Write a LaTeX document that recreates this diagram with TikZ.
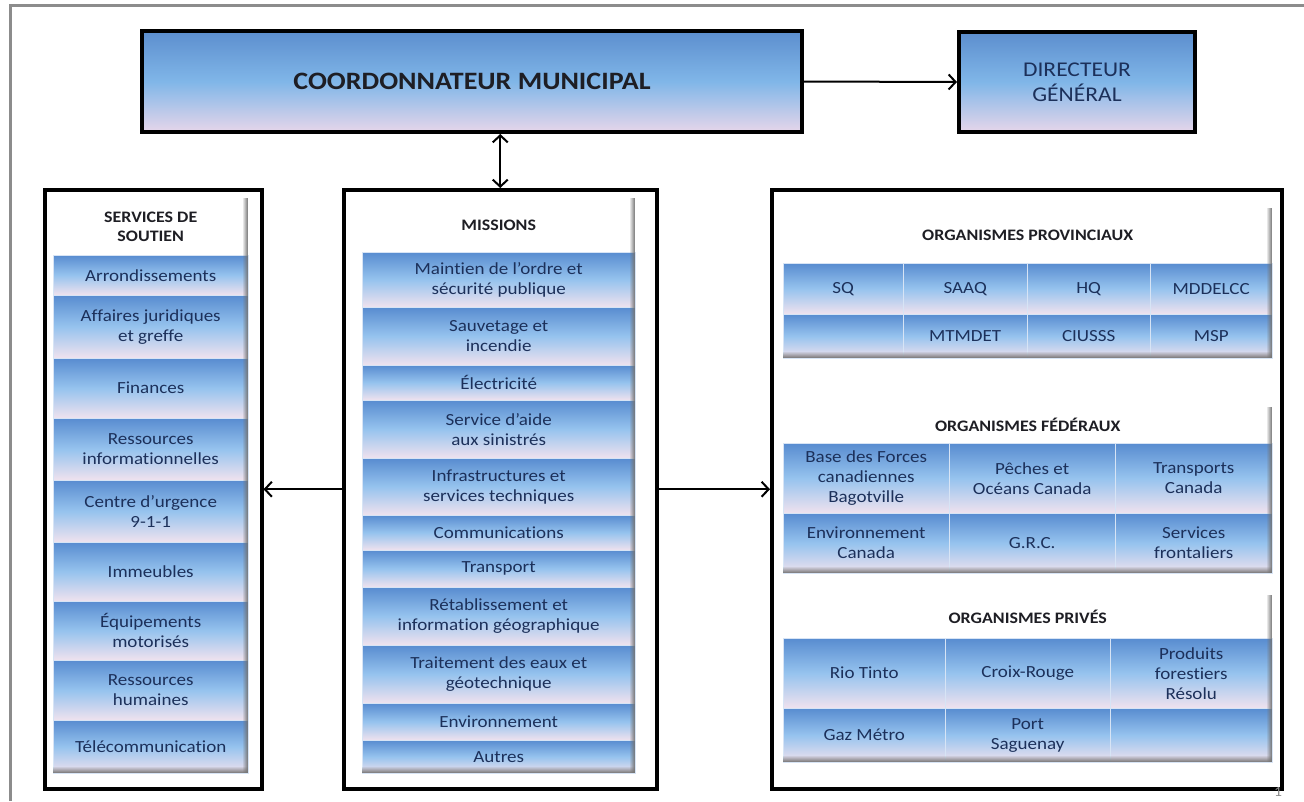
\documentclass[tikz,border=0pt]{standalone}
\usepackage{fontspec}
\setmainfont{Carlito}[FakeStretch=1.12,Ligatures=NoCommon]
\usepackage{xcolor}
\usepackage{tikz}
\usetikzlibrary{arrows.meta,fadings}

\definecolor{celltop}{RGB}{88,140,208}
\definecolor{cellmid}{RGB}{150,195,238}
\definecolor{cellbot}{RGB}{240,226,238}
\definecolor{boxtop}{RGB}{92,142,206}
\definecolor{boxmid}{RGB}{128,182,232}
\definecolor{boxbot}{RGB}{230,214,234}
\definecolor{cellline}{RGB}{215,228,245}
\definecolor{texte}{RGB}{28,48,90}
\definecolor{titre}{RGB}{30,30,36}
\definecolor{cadregris}{RGB}{140,140,140}

\tikzset{
	pointe/.tip={Straight Barb[length=7pt,width=15pt]},
	fleche/.style={line width=2pt,-pointe},
	cadre/.style 2 args={anchor=north west,draw=black,line width=3.5pt,minimum width=#1,minimum height=#2},
	chef/.style 2 args={anchor=north west,draw=black,line width=4pt,minimum width=#1,minimum height=#2,
		top color=boxtop,bottom color=boxbot,middle color=boxmid,align=center},
	entete/.style 2 args={anchor=north west,inner sep=1pt,minimum width=#1,minimum height=#2,fill=white,
		text=titre,align=center,font=\bfseries\fontsize{16}{19}\selectfont},
	cellule/.style 2 args={anchor=north west,inner sep=1pt,minimum width=#1,minimum height=#2,
		top color=celltop,bottom color=cellbot,middle color=cellmid,draw=cellline,line width=0.4pt,
		text=texte,align=center,font=\fontsize{17}{20}\selectfont},
	ombre/.style={fill=black!55},
}

\begin{document}
\begin{tikzpicture}[x=1pt,y=-1pt]
	\useasboundingbox (0,0) rectangle (1304,801);
	\draw[cadregris,line width=3pt] (10,801) -- (10,5) -- (1304,5);
	
	% haut
	\node at(140,29)[chef={660pt}{101pt},text=titre,font=\bfseries\fontsize{25}{29}\selectfont] (coord) {COORDONNATEUR MUNICIPAL};
	\node at(957,30)[chef={236pt}{100pt},text=texte,font=\fontsize{21}{25}\selectfont] (dirgen) {DIRECTEUR\\GÉNÉRAL};
	
	% les trois cadres
	\node at(43,188)[cadre={217pt}{599pt}] (soutien) {};
	\node at(342,188)[cadre={313pt}{599pt}] (missions) {};
	\node at(770,188)[cadre={510pt}{599pt}] (organismes) {};
	
	% services de soutien
	\node at(53,198)[entete={195pt}{57pt}] (soutienTitre) {SERVICES DE\\SOUTIEN};
	\node at(53,255)[cellule={195pt}{40pt}] (s1) {Arrondissements};
	\node at(53,295)[cellule={195pt}{63pt}] (s2) {Affaires juridiques\\et greffe};
	\node at(53,358)[cellule={195pt}{60pt}] (s3) {Finances};
	\node at(53,418)[cellule={195pt}{62pt}] (s4) {Ressources\\informationnelles};
	\node at(53,480)[cellule={195pt}{62pt}] (s5) {Centre d’urgence\\9-1-1};
	\node at(53,542)[cellule={195pt}{59pt}] (s6) {Immeubles};
	\node at(53,601)[cellule={195pt}{59pt}] (s7) {Équipements\\motorisés};
	\node at(53,660)[cellule={195pt}{60pt}] (s8) {Ressources\\humaines};
	\node at(53,720)[cellule={195pt}{53pt}] (s9) {Télécommunication};
	\fill[ombre,path fading=west] (242,198) rectangle (248,773);
	\fill[ombre,path fading=north] (53,766) rectangle (248,773);
	
	% missions
	\node at(362,198)[entete={273pt}{54pt}] (missionsTitre) {MISSIONS};
	\node at(362,252)[cellule={273pt}{55pt}] (m1) {Maintien de l’ordre et\\sécurité publique};
	\node at(362,307)[cellule={273pt}{58pt}] (m2) {Sauvetage et\\incendie};
	\node at(362,365)[cellule={273pt}{35pt}] (m3) {Électricité};
	\node at(362,400)[cellule={273pt}{58pt}] (m4) {Service d’aide\\aux sinistrés};
	\node at(362,458)[cellule={273pt}{57pt}] (m5) {Infrastructures et\\services techniques};
	\node at(362,515)[cellule={273pt}{35pt}] (m6) {Communications};
	\node at(362,550)[cellule={273pt}{37pt}] (m7) {Transport};
	\node at(362,587)[cellule={273pt}{58pt}] (m8) {Rétablissement et\\information géographique};
	\node at(362,645)[cellule={273pt}{58pt}] (m9) {Traitement des eaux et\\géotechnique};
	\node at(362,703)[cellule={273pt}{37pt}] (m10) {Environnement};
	\node at(362,740)[cellule={273pt}{33pt}] (m11) {Autres};
	\fill[ombre,path fading=west] (629,198) rectangle (635,773);
	\fill[ombre,path fading=north] (362,766) rectangle (635,773);
	
	% organismes provinciaux
	\node at(783,208)[entete={489pt}{55pt}] (provTitre) {ORGANISMES PROVINCIAUX};
	\node at(783,263)[cellule={120pt}{51pt}] (p1) {SQ};
	\node at(903,263)[cellule={124pt}{51pt}] (p2) {SAAQ};
	\node at(1027,263)[cellule={123pt}{51pt}] (p3) {HQ};
	\node at(1150,263)[cellule={122pt}{51pt}] (p4) {MDDELCC};
	\node at(783,314)[cellule={120pt}{44pt}] (p5) {};
	\node at(903,314)[cellule={124pt}{44pt}] (p6) {MTMDET};
	\node at(1027,314)[cellule={123pt}{44pt}] (p7) {CIUSSS};
	\node at(1150,314)[cellule={122pt}{44pt}] (p8) {MSP};
	\fill[ombre,path fading=west] (1266,208) rectangle (1272,358);
	\fill[ombre,path fading=north] (783,351) rectangle (1272,358);
	
	% organismes federaux
	\node at(783,407)[entete={489pt}{36pt}] (fedTitre) {ORGANISMES FÉDÉRAUX};
	\node at(783,443)[cellule={166pt}{70pt}] (f1) {Base des Forces\\canadiennes\\Bagotville};
	\node at(949,443)[cellule={166pt}{70pt}] (f2) {Pêches et\\Océans Canada};
	\node at(1115,443)[cellule={157pt}{70pt}] (f3) {Transports\\Canada};
	\node at(783,513)[cellule={166pt}{60pt}] (f4) {Environnement\\Canada};
	\node at(949,513)[cellule={166pt}{60pt}] (f5) {G.R.C.};
	\node at(1115,513)[cellule={157pt}{60pt}] (f6) {Services\\frontaliers};
	\fill[ombre,path fading=west] (1266,407) rectangle (1272,573);
	\fill[ombre,path fading=north] (783,566) rectangle (1272,573);
	
	% organismes prives
	\node at(783,595)[entete={489pt}{43pt}] (privTitre) {ORGANISMES PRIVÉS};
	\node at(783,638)[cellule={162pt}{70pt}] (r1) {Rio Tinto};
	\node at(945,638)[cellule={165pt}{70pt}] (r2) {Croix-Rouge};
	\node at(1110,638)[cellule={162pt}{70pt}] (r3) {Produits\\forestiers\\Résolu};
	\node at(783,708)[cellule={162pt}{54pt}] (r4) {Gaz Métro};
	\node at(945,708)[cellule={165pt}{54pt}] (r5) {Port\\Saguenay};
	\node at(1110,708)[cellule={162pt}{54pt}] (r6) {};
	\fill[ombre,path fading=west] (1266,595) rectangle (1272,762);
	\fill[ombre,path fading=north] (783,755) rectangle (1272,762);
	
	\node at(1278,792)[text=cadregris,inner sep=1pt,font=\fontsize{14}{14}\selectfont] (numero) {1};
	
	% liens
	\draw[fleche] (coord.east) -- (dirgen.west);
	\draw[line width=2pt,pointe-pointe] (missions.north |- coord.south) -- (missions.north);
	\draw[fleche] (missions.west) -- (soutien.east);
	\draw[fleche] (missions.east) -- (organismes.west);
\end{tikzpicture}
\end{document}
